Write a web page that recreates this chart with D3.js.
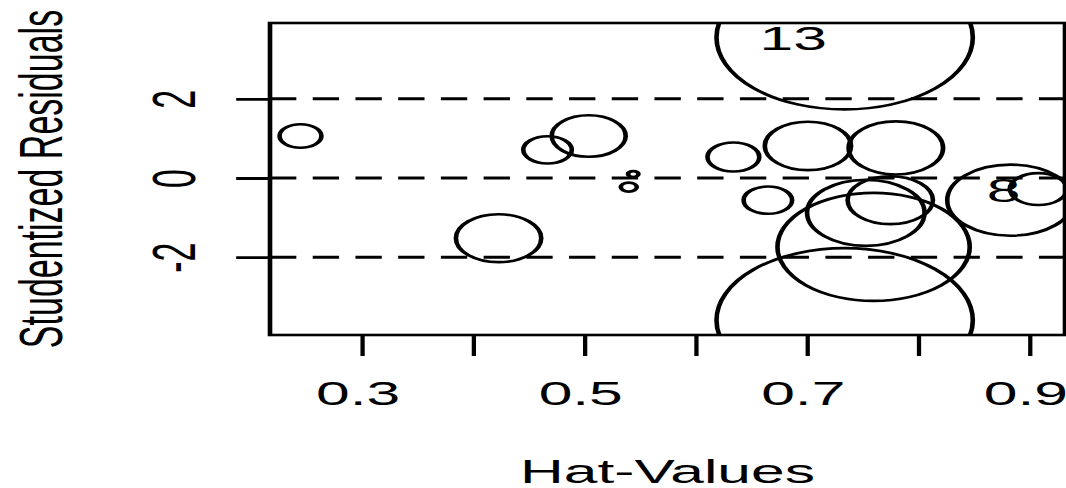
<!DOCTYPE html>
<html>
<head>
<meta charset="utf-8">
<script src="https://cdn.jsdelivr.net/npm/d3@7"></script>
<style>
  html, body { margin: 0; padding: 0; background: #ffffff; }
  svg { display: block; }
</style>
</head>
<body>
<script>
// Influence plot: hat-values against studentized residuals,
// circle area proportional to Cook's distance.
const obsIds     = ["1", "2", "3", "4", "5", "6", "7", "8", "9", "10", "11", "12", "13", "14", "15", "16", "17"];
const hatValues  = [0.245, 0.423, 0.467, 0.504, 0.540, 0.544, 0.634, 0.908, 0.665, 0.701, 0.780, 0.760, 0.734, 0.753, 0.734, 0.775, 0.883];
const studRes    = [1.06, -1.52, 0.71, 1.06, -0.23, 0.10, 0.53, -0.28, -0.56, 0.81, 0.76, -1.74, 3.55, -0.88, -3.59, -0.56, -0.56];
const cookD      = [0.032, 0.133, 0.043, 0.100, 0.0047, 0.002, 0.049, 0.059, 0.043, 0.136, 0.163, 0.675, 1.20, 0.252, 1.20, 0.133, 0.292];
const shownLabels = ["8", "13"];

const xTicks      = [0.3, 0.4, 0.5, 0.6, 0.7, 0.8, 0.9];
const xTickLabels = ["0.3", "", "0.5", "", "0.7", "", "0.9"];
const yTicks      = [-2, 0, 2];
const yTickLabels = ["-2", "0", "2"];
const refLines    = [-2, 0, 2];

const xTitle = "Hat-Values";
const yTitle = "Studentized Residuals";

// device: output is stretched horizontally relative to the drawing units
const W = 1066, H = 488, SX = 1.78;
const box = { left: 270, right: 1065, top: 23, bottom: 335 };
const FONT = "'Liberation Sans', Arial, Helvetica, sans-serif";
const FS = 34;

const svg = d3.select("body").append("svg")
  .attr("width", W).attr("height", H)
  .attr("viewBox", `0 0 ${W} ${H}`);

const g = svg.append("g").attr("transform", `scale(${SX},1)`);

const L = box.left / SX, R = box.right / SX;

const x = d3.scaleLinear().domain([0.2176, 0.9320]).range([L, R]);
const y = d3.scaleLinear().domain([-3.965, 3.914]).range([box.bottom, box.top]);
const rad = d3.scaleSqrt().domain([0, 1.2]).range([0, 72]);

g.append("clipPath").attr("id", "plotClip")
  .append("rect")
  .attr("x", L).attr("y", box.top)
  .attr("width", R - L).attr("height", box.bottom - box.top);

// dashed reference lines
g.append("g").selectAll("line").data(refLines).join("line")
  .attr("x1", L).attr("x2", R + 2)
  .attr("y1", d => y(d)).attr("y2", d => y(d))
  .attr("stroke", "#000").attr("stroke-width", 3)
  .attr("stroke-dasharray", "14.8 9.2");

// circles
const pts = obsIds.map((id, i) => ({ id, h: hatValues[i], r: studRes[i], c: cookD[i] }));
g.append("g").attr("clip-path", "url(#plotClip)")
  .selectAll("circle").data(pts).join("circle")
  .attr("cx", d => x(d.h)).attr("cy", d => y(d.r))
  .attr("r", d => rad(d.c))
  .attr("fill", "none").attr("stroke", "#000").attr("stroke-width", 2.6);

// point labels, placed to the left of their points
g.append("g").selectAll("text")
  .data(pts.filter(d => shownLabels.includes(d.id))).join("text")
  .attr("x", d => x(d.h) - 10).attr("y", d => y(d.r) + 12.5)
  .attr("text-anchor", "end")
  .attr("font-family", FONT).attr("font-size", FS)
  .attr("fill", "#000")
  .text(d => d.id);

// x axis
const xAxis = g.append("g").attr("transform", `translate(0,${box.bottom})`)
  .call(d3.axisBottom(x).tickValues(xTicks).tickSize(21).tickSizeOuter(0)
    .tickFormat((d, i) => xTickLabels[i]));
xAxis.select(".domain").remove();
xAxis.selectAll(".tick line").attr("stroke", "#000").attr("stroke-width", 2.4);
xAxis.selectAll(".tick text")
  .attr("y", 70).attr("dy", 0).attr("dx", -2.5)
  .attr("font-family", FONT).attr("font-size", FS).attr("fill", "#000");

// y axis with labels parallel to the axis
const yAxis = g.append("g").attr("transform", `translate(${L},0)`)
  .call(d3.axisLeft(y).tickValues(yTicks).tickSize(19).tickSizeOuter(0)
    .tickFormat((d, i) => yTickLabels[i]));
yAxis.select(".domain").remove();
yAxis.selectAll(".tick line").attr("stroke", "#000").attr("stroke-width", 2.8);
yAxis.selectAll(".tick text")
  .attr("x", null).attr("dy", null).attr("dx", null)
  .attr("transform", "translate(-42,0) rotate(-90)")
  .attr("text-anchor", "middle")
  .attr("font-family", FONT).attr("font-size", FS).attr("fill", "#000");

// plot box
g.append("rect")
  .attr("x", L).attr("y", box.top)
  .attr("width", R - L).attr("height", box.bottom - box.top)
  .attr("fill", "none").attr("stroke", "#000").attr("stroke-width", 2.6);

// axis titles
g.append("text")
  .attr("x", (L + R) / 2).attr("y", 483)
  .attr("text-anchor", "middle")
  .attr("font-family", FONT).attr("font-size", FS).attr("fill", "#000")
  .text(xTitle);

g.append("text")
  .attr("transform", `translate(${62 / SX},${(box.top + box.bottom) / 2}) rotate(-90)`)
  .attr("text-anchor", "middle")
  .attr("font-family", FONT).attr("font-size", FS).attr("fill", "#000")
  .text(yTitle);
</script>
</body>
</html>
